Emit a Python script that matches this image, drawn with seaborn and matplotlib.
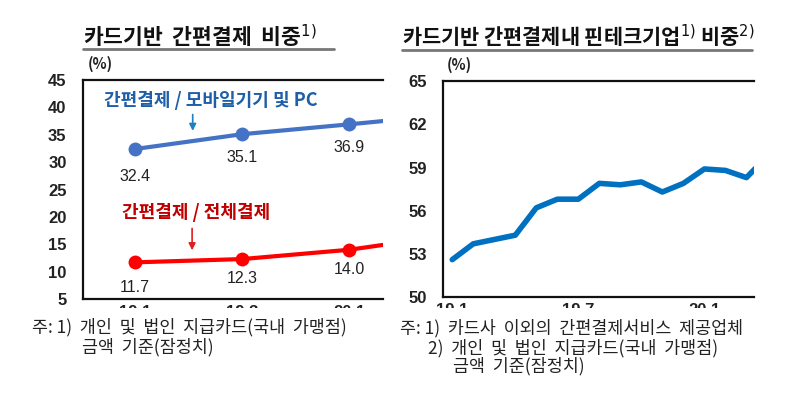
import pandas as pd
import matplotlib.pyplot as plt
import matplotlib.patches as mpatches
import seaborn as sns

# 왼쪽: 카드기반 간편결제 비중 (%)
periods_l = ["19.1", "19.3", "20.1", "20.3"]
mobile_pc = [32.4, 35.1, 36.9, 38.8]
total_pay = [11.7, 12.3, 14.0, 16.8]
labeled_l = 3

# 오른쪽: 간편결제내 핀테크기업 비중 (%)
months_r = ["19.1", "19.2", "19.3", "19.4", "19.5", "19.6", "19.7", "19.8",
            "19.9", "19.10", "19.11", "19.12", "20.1", "20.2", "20.3", "20.4"]
fintech = [52.6, 53.7, 54.0, 54.3, 56.2, 56.8, 56.8, 57.9,
           57.8, 58.0, 57.3, 57.9, 58.9, 58.8, 58.3, 59.8]
ticks_r = ["19.1", "19.7", "20.1"]

sns.set_theme(style="white")
plt.rcParams["font.family"] = ["Noto Sans CJK KR", "DejaVu Sans"]

fig = plt.figure(figsize=(8, 3.94), dpi=100)
ax1 = fig.add_axes([0.104, 0.241, 0.375, 0.556])
ax2 = fig.add_axes([0.554, 0.246, 0.389, 0.548])

num_font = ["Liberation Sans", "DejaVu Sans"]

df_l = pd.DataFrame({"x": range(len(periods_l)), "mobile": mobile_pc, "total": total_pay})
sns.lineplot(data=df_l, x="x", y="mobile", ax=ax1, color="#4472C4", lw=3,
             marker="o", markersize=10, markeredgewidth=0)
sns.lineplot(data=df_l, x="x", y="total", ax=ax1, color="#FF0000", lw=3,
             marker="o", markersize=10, markeredgewidth=0)
for i in range(labeled_l):
    ax1.annotate(f"{mobile_pc[i]:.1f}", (i, mobile_pc[i]), xytext=(0, -20 if i == 0 else -17),
                 textcoords="offset points", ha="center", va="center", fontsize=11.5,
                 color="#222222", family=num_font)
    ax1.annotate(f"{total_pay[i]:.1f}", (i, total_pay[i]), xytext=(0, -18 if i == 0 else -14),
                 textcoords="offset points", ha="center", va="center", fontsize=11.5,
                 color="#222222", family=num_font)

ax1.text(0.07, 0.905, "간편결제 / 모바일기기 및 PC", transform=ax1.transAxes, fontsize=13,
         fontweight="bold", color="#1F5FA8", va="center")
ax1.annotate("", xy=(0.365, 0.755), xytext=(0.365, 0.855), xycoords="axes fraction",
             arrowprops=dict(arrowstyle="-|>", color="#1F7FC0", lw=1.2, mutation_scale=10))
ax1.text(0.13, 0.393, "간편결제 / 전체결제", transform=ax1.transAxes, fontsize=13,
         fontweight="bold", color="#C00000", va="center")
ax1.annotate("", xy=(0.363, 0.21), xytext=(0.363, 0.335), xycoords="axes fraction",
             arrowprops=dict(arrowstyle="-|>", color="#E02020", lw=1.2, mutation_scale=10))

ax1.set_xlim(-0.486, 2.318)
ax1.set_ylim(5, 45)
ax1.set_yticks(range(5, 50, 5))
ax1.set_xticks(range(labeled_l))
ax1.set_xticklabels(periods_l[:labeled_l])

df_r = pd.DataFrame({"x": range(len(months_r)), "v": fintech})
sns.lineplot(data=df_r, x="x", y="v", ax=ax2, color="#0070C0", lw=4)
ax2.set_xlim(-0.43, 14.38)
ax2.set_ylim(50, 65)
ax2.set_yticks(range(50, 66, 3))
ax2.set_xticks([months_r.index(t) for t in ticks_r])
ax2.set_xticklabels(ticks_r)

for ax in (ax1, ax2):
    ax.set_xlabel("")
    ax.set_ylabel("")
    ax.spines["right"].set_visible(False)
    for s in ("left", "top", "bottom"):
        ax.spines[s].set_color("#111111")
        ax.spines[s].set_linewidth(1.6)
    ax.tick_params(length=0, labelsize=12, colors="#222222", pad=4)
    for lab in ax.get_yticklabels() + ax.get_xticklabels():
        lab.set_fontweight("bold")
        lab.set_family(num_font)
    ax.tick_params(axis="y", pad=12)

fig.text(0.110, 0.826, "(%)", fontsize=10.5, fontweight="bold", color="#222222")
fig.text(0.559, 0.823, "(%)", fontsize=10.5, fontweight="bold", color="#222222")

# 제목과 밑줄
fig.text(0.104, 0.908, "카드기반  간편결제  비중$^{1)}$", fontsize=15.5, fontweight="bold",
         color="#111111", va="center")
fig.text(0.503, 0.908, "카드기반 간편결제내 핀테크기업$^{1)}$ 비중$^{2)}$", fontsize=15,
         fontweight="bold", color="#111111", va="center")
fig.add_artist(plt.Line2D([0.104, 0.417], [0.876, 0.876], color="#777777", lw=2))
fig.add_artist(plt.Line2D([0.503, 0.940], [0.874, 0.874], color="#777777", lw=2))

# x축 눈금 아래쪽을 가리는 영역 (원본처럼 잘린 눈금)
fig.patches.append(mpatches.Rectangle((0, 0), 1, 0.218, transform=fig.transFigure,
                                      facecolor="white", edgecolor="none", zorder=5))

note_kw = dict(fontsize=12.5, color="#222222", zorder=6, va="center")
fig.text(0.040, 0.170, "주: 1)  개인  및  법인  지급카드(국내  가맹점)", **note_kw)
fig.text(0.102, 0.118, "금액  기준(잠정치)", **note_kw)
fig.text(0.500, 0.168, "주: 1)  카드사  이외의  간편결제서비스  제공업체", **note_kw)
fig.text(0.535, 0.117, "2)  개인  및  법인  지급카드(국내  가맹점)", **note_kw)
fig.text(0.566, 0.070, "금액  기준(잠정치)", **note_kw)

fig.savefig("out.png", dpi=100)
